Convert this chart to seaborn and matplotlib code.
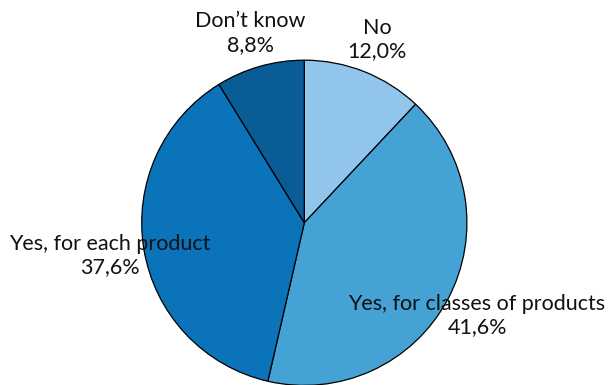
import matplotlib
matplotlib.use("Agg")
import matplotlib.pyplot as plt
import seaborn as sns

# Survey answer shares (percent), clockwise from 12 o'clock
answers = ["No", "Yes, for classes of products", "Yes, for each product", "Don\u2019t know"]
shares = [12.0, 41.6, 37.6, 8.8]
colors = ["#92C5EB", "#45A2D5", "#0A73BA", "#0A5C97"]

sns.set_style("white")
plt.rcParams["font.family"] = ["Lato", "DejaVu Sans"]

fig = plt.figure(figsize=(6.09, 3.85), dpi=100)
ax = fig.add_axes([0.2327, -0.001, 0.534, 0.8447])

ax.pie(shares, colors=colors, startangle=90, counterclock=False,
       radius=1.0, wedgeprops=dict(edgecolor="black", linewidth=0.9))
ax.set_xlim(-1, 1)
ax.set_ylim(-1, 1)
ax.set_aspect("equal")
ax.axis("off")

# label placement for each slice (x, y in pie units)
label_pos = [(0.447, 1.127), (1.062, -0.568), (-1.195, -0.199), (-0.334, 1.167)]
for name, val, (lx, ly) in zip(answers, shares, label_pos):
    txt = f"{name}\n{val:.1f}%".replace(".", ",")
    ax.text(lx, ly, txt, ha="center", va="center", fontsize=15.5,
            color="#111111", linespacing=1.2, clip_on=False)

fig.savefig("out.png", dpi=100)
